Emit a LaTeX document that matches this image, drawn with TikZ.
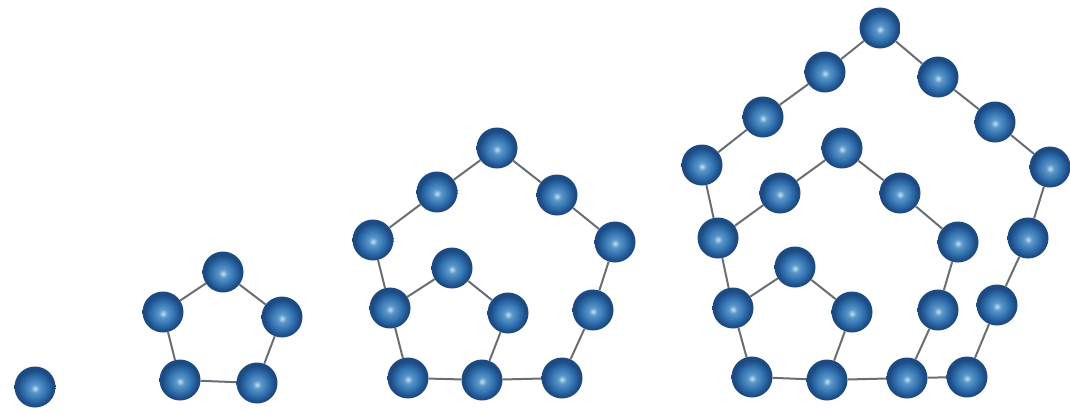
\documentclass[tikz,border=0pt]{standalone}
\usepackage{tikz}
\definecolor{beaddark}{RGB}{28,74,130}
\definecolor{beadmid}{RGB}{52,118,180}
\definecolor{beadlight}{RGB}{190,225,245}
\definecolor{linkgray}{RGB}{105,110,118}
\pgfdeclareradialshading{beadshade}{\pgfpoint{0bp}{-2bp}}{%
  color(0bp)=(beadlight); color(5bp)=(beadmid!70!beadlight); color(13bp)=(beadmid);
  color(22bp)=(beaddark); color(50bp)=(beaddark)}
\tikzset{
  bead/.style={circle, inner sep=0pt, minimum size=41pt, shading=beadshade},
  link/.style={line width=2pt, linkgray}
}
\begin{document}
\begin{tikzpicture}[x=1pt,y=-1pt]
  \useasboundingbox (0,0) rectangle (1070,413);
  % First figure: one bead
  \node[bead] (a1) at (35,387) {};
  % Second figure: five beads
  \foreach \n/\x/\y in {b1/223/272, b2/163/312, b3/282/317, b4/180/380, b5/257/383}
    \node[bead] (\n) at (\x,\y) {};
  \foreach \p/\q in {b1/b2, b1/b3, b2/b4, b3/b5, b4/b5}
    \draw[link] (\p) -- (\q);
  % Third figure: twelve beads
  \foreach \n/\x/\y in {c1/497/148, c2/437/192, c3/557/195, c4/373/240, c5/615/242,
      c6/452/268, c7/390/308, c8/508/313, c9/593/310, c10/408/378, c11/482/380, c12/562/378}
    \node[bead] (\n) at (\x,\y) {};
  \foreach \p/\q in {c4/c2, c2/c1, c1/c3, c3/c5, c5/c9, c9/c12, c12/c11, c11/c10,
      c10/c7, c7/c4, c7/c6, c6/c8, c8/c11}
    \draw[link] (\p) -- (\q);
  % Fourth figure: twenty-two beads
  \foreach \n/\x/\y in {d1/880/28, d2/825/72, d3/938/77, d4/763/117, d5/995/122,
      d6/702/165, d7/1050/167, d8/842/148, d9/780/193, d10/900/193, d11/718/238,
      d12/958/242, d13/1028/238, d14/795/267, d15/733/308, d16/852/312, d17/938/310,
      d18/997/305, d19/752/377, d20/827/380, d21/907/378, d22/967/377}
    \node[bead] (\n) at (\x,\y) {};
  \foreach \p/\q in {d19/d15, d15/d11, d11/d6, d6/d4, d4/d2, d2/d1, d1/d3, d3/d5,
      d5/d7, d7/d13, d13/d18, d18/d22, d22/d21, d21/d20, d20/d19,
      d11/d9, d9/d8, d8/d10, d10/d12, d12/d17, d17/d21,
      d15/d14, d14/d16, d16/d20}
    \draw[link] (\p) -- (\q);
\end{tikzpicture}
\end{document}
